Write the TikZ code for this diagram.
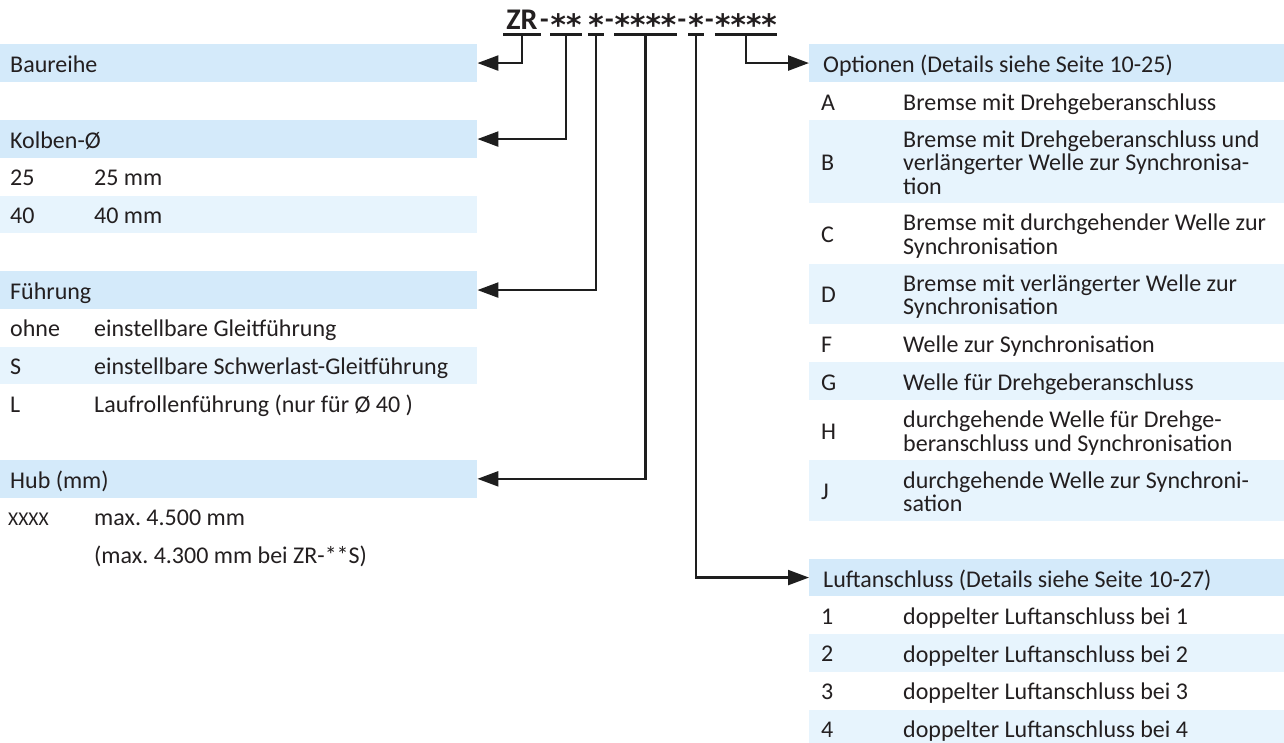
\documentclass[tikz,border=0pt]{standalone}
\usepackage{fontspec}
\setmainfont{Carlito}
\newfontfamily\astfont{DejaVu Sans}
\usetikzlibrary{arrows.meta}
\definecolor{hdrc}{RGB}{212,234,250}
\definecolor{altc}{RGB}{231,244,253}
\definecolor{txtc}{RGB}{35,31,32}
\definecolor{linec}{RGB}{30,30,30}
\frenchspacing
\newcommand\rowtxt[1]{\begin{tabular}{@{}l@{}}#1\end{tabular}}
\newcommand\cst{\raisebox{-6.5pt}{\astfont\bfseries\fontsize{29.5}{29.5}\selectfont *}}
\begin{document}
\begin{tikzpicture}[x=1pt,y=-1pt,
  rowL/.style={anchor=north west, inner sep=0pt, minimum width=477pt},
  rowR/.style={anchor=north west, inner sep=0pt, minimum width=475pt},
  hdr/.style={fill=hdrc, minimum height=37.7pt},
  alt/.style={fill=altc},
  txt/.style={anchor=west, inner sep=0pt, text=txtc, font=\fontsize{24}{23.5}\selectfont, yshift=-4.3pt},
  small/.style={font=\fontsize{19.5}{23.5}\selectfont},
  code/.style={anchor=north, inner sep=0pt, text height=20pt, text depth=5pt, text=txtc, font=\bfseries\fontsize{30}{30}\selectfont},
  hyph/.style={anchor=base, inner sep=0pt, text=txtc, font=\bfseries\fontsize{28}{28}\selectfont},
  uline/.style={line width=2.3pt, draw=linec},
  conn/.style={line width=2.3pt, draw=linec, -{Triangle[length=21pt,width=15pt]}}
]
\useasboundingbox[fill=white] (0,0) rectangle (1284,743);

% ---------- code ----------
\node[code, minimum width=37pt] (g1) at (522,9) {ZR};
\node[hyph] (d1) at (544.5,29) {-};
\node[code, minimum width=28pt] (g2) at (566,9) {\cst\cst};
\node[code, minimum width=16pt] (g3) at (596,9) {\cst};
\node[hyph] (d2) at (609.5,29) {-};
\node[code, minimum width=61pt] (g4) at (645.5,9) {\cst\cst\cst\cst};
\node[hyph] (d3) at (682,29) {-};
\node[code, minimum width=15pt] (g5) at (696,9) {\cst};
\node[hyph] (d4) at (709.5,29) {-};
\node[code, minimum width=62pt] (g6) at (746,9) {\cst\cst\cst\cst};
\foreach \g in {g1,g2,g3,g4,g5,g6}{\draw[uline] (\g.south west) -- (\g.south east);}

% ---------- left column ----------
\node[rowL,hdr] (baureihe) at (0,44) {};
\node[txt,xshift=10pt] (baureihe-t) at (baureihe.west) {\rowtxt{Baureihe}};

\node[rowL,hdr] (kolben) at (0,120) {};
\node[txt,xshift=10pt] (kolben-t) at (kolben.west) {\rowtxt{Kolben-Ø}};
\node[rowL,minimum height=37.7pt] (r25) at (0,157.7) {};
\node[txt,xshift=10pt] (r25-l) at (r25.west) {\rowtxt{25}};
\node[txt,xshift=94pt] (r25-d) at (r25.west) {\rowtxt{25 mm}};
\node[rowL,alt,minimum height=37.7pt] (r40) at (0,195.4) {};
\node[txt,xshift=10pt] (r40-l) at (r40.west) {\rowtxt{40}};
\node[txt,xshift=94pt] (r40-d) at (r40.west) {\rowtxt{40 mm}};

\node[rowL,hdr] (fuehrung) at (0,271) {};
\node[txt,xshift=10pt] (fuehrung-t) at (fuehrung.west) {\rowtxt{Führung}};
\node[rowL,minimum height=37.7pt] (rohne) at (0,308.7) {};
\node[txt,xshift=10pt] (rohne-l) at (rohne.west) {\rowtxt{ohne}};
\node[txt,xshift=94pt] (rohne-d) at (rohne.west) {\rowtxt{einstellbare Gleitführung}};
\node[rowL,alt,minimum height=37.7pt] (rs) at (0,346.4) {};
\node[txt,xshift=10pt] (rs-l) at (rs.west) {\rowtxt{S}};
\node[txt,xshift=94pt] (rs-d) at (rs.west) {\rowtxt{einstellbare Schwerlast-Gleitführung}};
\node[rowL,minimum height=37.7pt] (rl) at (0,384.1) {};
\node[txt,xshift=10pt] (rl-l) at (rl.west) {\rowtxt{L}};
\node[txt,xshift=94pt] (rl-d) at (rl.west) {\rowtxt{Laufrollenführung (nur für Ø 40 )}};

\node[rowL,hdr] (hub) at (0,459.8) {};
\node[txt,xshift=10pt] (hub-t) at (hub.west) {\rowtxt{Hub (mm)}};
\node[rowL,minimum height=37.7pt] (rx) at (0,497.5) {};
\node[txt,small,xshift=8pt] (rx-l) at (rx.west) {\rowtxt{XXXX}};
\node[txt,xshift=94pt] (rx-d) at (rx.west) {\rowtxt{max. 4.500 mm}};
\node[rowL,minimum height=37.7pt] (rm) at (0,535.2) {};
\node[txt,xshift=94pt] (rm-d) at (rm.west) {\rowtxt{(max. 4.300 mm bei ZR-**S)}};

% ---------- right column ----------
\node[rowR,hdr] (opt) at (809,44) {};
\node[txt,xshift=14pt] (opt-t) at (opt.west) {\rowtxt{Optionen (Details siehe Seite 10-25)}};
\node[rowR,minimum height=38pt] (oa) at (809,82) {};
\node[txt,xshift=12pt] (oa-l) at (oa.west) {\rowtxt{A}};
\node[txt,xshift=94pt] (oa-d) at (oa.west) {\rowtxt{Bremse mit Drehgeberanschluss}};
\node[rowR,alt,minimum height=83pt] (ob) at (809,120) {};
\node[txt,xshift=12pt] (ob-l) at (ob.west) {\rowtxt{B}};
\node[txt,xshift=94pt] (ob-d) at (ob.west) {\rowtxt{Bremse mit Drehgeberanschluss und\\verlängerter Welle zur Synchronisa-\\tion}};
\node[rowR,minimum height=60.5pt] (oc) at (809,203) {};
\node[txt,xshift=12pt] (oc-l) at (oc.west) {\rowtxt{C}};
\node[txt,xshift=94pt] (oc-d) at (oc.west) {\rowtxt{Bremse mit durchgehender Welle zur\\Synchronisation}};
\node[rowR,alt,minimum height=60.5pt] (od) at (809,263.5) {};
\node[txt,xshift=12pt] (od-l) at (od.west) {\rowtxt{D}};
\node[txt,xshift=94pt] (od-d) at (od.west) {\rowtxt{Bremse mit verlängerter Welle zur\\Synchronisation}};
\node[rowR,minimum height=38pt] (of) at (809,324) {};
\node[txt,xshift=12pt] (of-l) at (of.west) {\rowtxt{F}};
\node[txt,xshift=94pt] (of-d) at (of.west) {\rowtxt{Welle zur Synchronisation}};
\node[rowR,alt,minimum height=37.7pt] (og) at (809,362) {};
\node[txt,xshift=12pt] (og-l) at (og.west) {\rowtxt{G}};
\node[txt,xshift=94pt] (og-d) at (og.west) {\rowtxt{Welle für Drehgeberanschluss}};
\node[rowR,minimum height=60.5pt] (oh) at (809,399.7) {};
\node[txt,xshift=12pt] (oh-l) at (oh.west) {\rowtxt{H}};
\node[txt,xshift=94pt] (oh-d) at (oh.west) {\rowtxt{durchgehende Welle für Drehge-\\beranschluss und Synchronisation}};
\node[rowR,alt,minimum height=60.8pt] (oj) at (809,460.2) {};
\node[txt,xshift=12pt] (oj-l) at (oj.west) {\rowtxt{J}};
\node[txt,xshift=94pt] (oj-d) at (oj.west) {\rowtxt{durchgehende Welle zur Synchroni-\\sation}};

\node[rowR,hdr] (luft) at (809,558.5) {};
\node[txt,xshift=14pt] (luft-t) at (luft.west) {\rowtxt{Luftanschluss (Details siehe Seite 10-27)}};
\node[rowR,minimum height=37.7pt] (l1) at (809,596.2) {};
\node[txt,xshift=12pt] (l1-l) at (l1.west) {\rowtxt{1}};
\node[txt,xshift=94pt] (l1-d) at (l1.west) {\rowtxt{doppelter Luftanschluss bei 1}};
\node[rowR,alt,minimum height=37.7pt] (l2) at (809,633.9) {};
\node[txt,xshift=12pt] (l2-l) at (l2.west) {\rowtxt{2}};
\node[txt,xshift=94pt] (l2-d) at (l2.west) {\rowtxt{doppelter Luftanschluss bei 2}};
\node[rowR,minimum height=37.7pt] (l3) at (809,671.6) {};
\node[txt,xshift=12pt] (l3-l) at (l3.west) {\rowtxt{3}};
\node[txt,xshift=94pt] (l3-d) at (l3.west) {\rowtxt{doppelter Luftanschluss bei 3}};
\node[rowR,alt,minimum height=37.7pt] (l4) at (809,709.3) {};
\node[txt,xshift=12pt] (l4-l) at (l4.west) {\rowtxt{4}};
\node[txt,xshift=94pt] (l4-d) at (l4.west) {\rowtxt{doppelter Luftanschluss bei 4}};

% ---------- connectors ----------
\draw[conn] (g1.south) |- (baureihe.east);
\draw[conn] (g2.south) |- (kolben.east);
\draw[conn] (g3.south) |- (fuehrung.east);
\draw[conn] (g4.south) |- (hub.east);
\draw[conn] (g5.south) |- (luft.west);
\draw[conn] (g6.south) |- (opt.west);
\end{tikzpicture}
\end{document}
